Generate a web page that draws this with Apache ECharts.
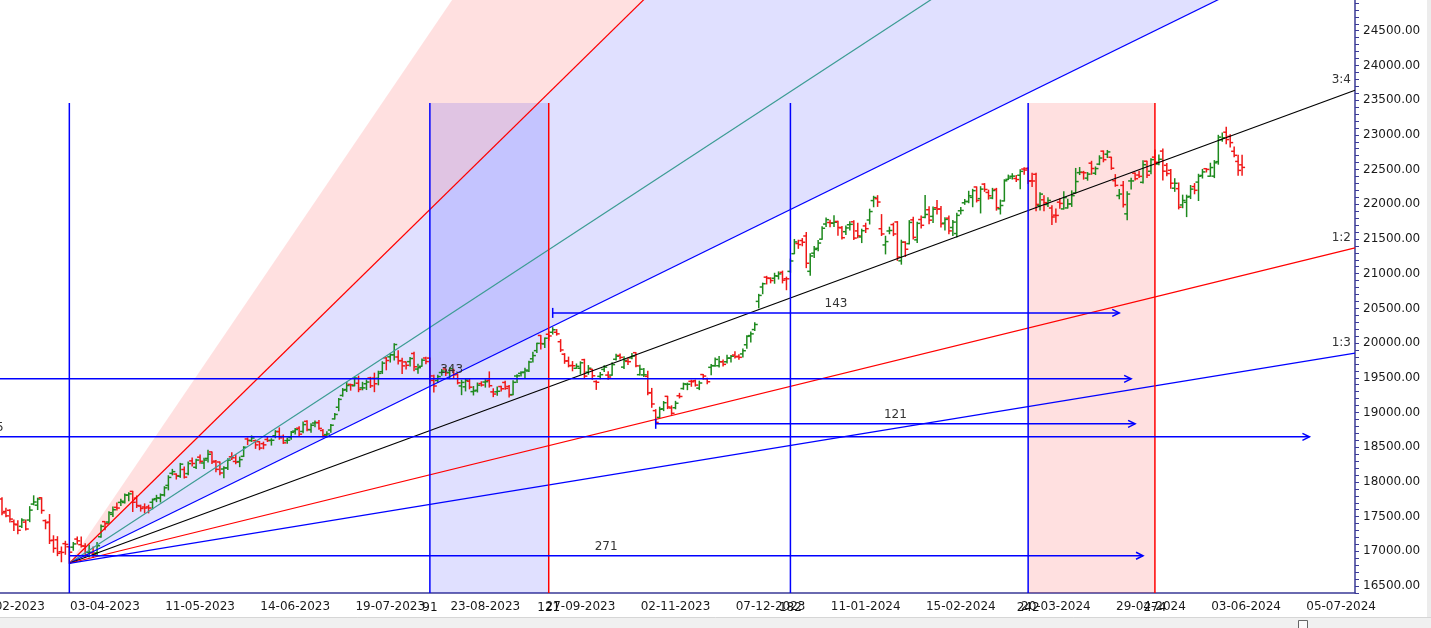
<!DOCTYPE html>
<html><head><meta charset="utf-8">
<script src="https://cdn.jsdelivr.net/npm/echarts@6/dist/echarts.min.js"></script>
<style>html,body{margin:0;padding:0;background:#fff}#c{width:1431px;height:628px}</style>
</head><body><div id="c"></div>
<script>
// ---- trading calendar (NSE sessions, then projected weekdays) ----
const tradingDays = {
 '2023-02': [22,23,24,27,28],
 '2023-03': [1,2,3,6,8,9,10,13,14,15,16,17,20,21,22,23,24,27,28,29,31],
 '2023-04': [3,5,6,10,11,12,13,17,18,19,20,21,24,25,26,27,28],
 '2023-05': [2,3,4,5,8,9,10,11,12,15,16,17,18,19,22,23,24,25,26,29,30,31],
 '2023-06': [1,2,5,6,7,8,9,12,13,14,15,16,19,20,21,22,23,26,27,28,30],
 '2023-07': [3,4,5,6,7,10,11,12,13,14,17,18,19,20,21,24,25,26,27,28,31],
 '2023-08': [1,2,3,4,7,8,9,10,11,14,16,17,18,21,22,23,24,25,28,29,30,31],
 '2023-09': [1,4,5,6,7,8,11,12,13,14,15,18,20,21,22,25,26,27,28,29],
 '2023-10': [3,4,5,6,9,10,11,12,13,16,17,18,19,20,23,25,26,27,30,31],
 '2023-11': [1,2,3,6,7,8,9,10,12,13,15,16,17,20,21,22,23,24,28,29,30],
 '2023-12': [1,4,5,6,7,8,11,12,13,14,15,18,19,20,21,22,26,27,28,29],
 '2024-01': [1,2,3,4,5,8,9,10,11,12,15,16,17,18,19,20,23,24,25,29,30,31],
 '2024-02': [1,2,5,6,7,8,9,12,13,14,15,16,19,20,21,22,23,26,27,28,29],
 '2024-03': [1,2,4,5,6,7,11,12,13,14,15,18,19,20,21,22,26,27,28],
 '2024-04': [1,2,3,4,5,8,9,10,12,15,16,18,19,22,23,24,25,26,29,30],
 '2024-05': [2,3,6,7,8,9,10,13,14,15,16,17,18,21,22,23,24,27,28,29,30,31],
 '2024-06': [3,4,5,6,7,10,11,12,13,14,17,18,19,20,21,24,25,26,27,28],
 '2024-07': [1,2,3,4,5,8,9,10]
};
const categories = [];
Object.keys(tradingDays).forEach(function (m) {
  const p = m.split('-');
  tradingDays[m].forEach(function (d) { categories.push((d < 10 ? '0' : '') + d + '-' + p[1] + '-' + p[0]); });
});

// ---- daily OHLC (NIFTY 50) ----
const opens = [
17755,17574,17591,17429,17383,
17360,17421,17451,17681,17665,17772,17443,17422,17160,17166,16994,17111,17066,17060,17177,17097,17076,16984,16977,16977,17210,
17428,17422,17533,17634,17705,17704,17808,17864,17767,17653,17639,17640,17707,17759,17767,17813,17950,
18124,18113,18082,18179,18120,18303,18211,18357,18273,18339,18432,18300,18287,18186,18201,18362,18295,18293,18369,18619,18595,18594,
18580,18551,18612,18600,18665,18725,18655,18595,18639,18732,18774,18727,18873,18752,18849,18853,18741,18682,18748,18908,19076,
19246,19331,19405,19385,19422,19355,19414,19497,19495,19493,19588,19787,19802,19831,19800,19748,19729,19733,19850,19626,19666,
19785,19784,19463,19462,19576,19627,19578,19606,19553,19383,19370,19450,19301,19320,19417,19439,19463,19297,19298,19374,19433,19375,
19258,19526,19564,19582,19598,19774,19891,20110,19989,20127,20156,20156,20020,19840,19744,19678,19637,19638,19761,19581,
19622,19446,19521,19621,19539,19539,19767,19822,19654,19737,19787,19862,19545,19542,19521,19286,19027,18929,19053,19233,
19065,19069,19241,19345,19405,19449,19457,19351,19547,19486,19651,19674,19674,19731,19731,19784,19828,19809,19844,19976,20108,
20195,20601,20808,20950,20932,20934,20965,21019,20927,21033,21288,21434,21477,21543,21034,21295,21365,21497,21715,21737,
21727,21752,21661,21605,21705,21747,21616,21529,21688,21773,22053,22080,21647,21414,21615,21707,21745,21185,21454,21433,21775,21487,
21780,21812,21921,21825,21950,21932,21728,21800,21665,21578,21906,22021,22038,22099,22249,22081,22290,22170,22090,22214,21935,
22048,22359,22403,22371,22418,22507,22517,22338,22432,21982,22064,21996,21946,21843,22030,21933,21947,22005,22163,
22455,22458,22376,22592,22447,22578,22765,22721,22677,22339,22125,22272,21862,22336,22448,22421,22316,22620,22475,22679,
22580,22766,22561,22489,22231,22225,21990,22028,22113,22255,22319,22415,22512,22404,22405,22614,22930,23038,22977,22763,22617,22568];
const highs = [
17772,17621,17599,17451,17440,
17468,17453,17644,17800,17766,17772,17451,17530,17224,17211,17063,17145,17066,17128,17207,17205,17109,17091,17062,17126,17381,
17428,17570,17638,17695,17749,17825,17843,17864,17797,17666,17684,17664,17754,17807,17827,17931,18089,
18181,18116,18267,18216,18287,18344,18326,18389,18342,18458,18432,18310,18288,18218,18335,18419,18392,18358,18508,18633,18663,18603,
18581,18573,18641,18622,18738,18778,18676,18633,18728,18769,18794,18864,18881,18839,18876,18886,18756,18722,18829,18987,19201,
19345,19434,19407,19512,19524,19435,19468,19507,19567,19595,19731,19791,19851,19991,19888,19782,19729,19794,19867,19695,19772,
19795,19784,19537,19538,19620,19628,19645,19623,19557,19465,19482,19480,19374,19425,19443,19472,19585,19342,19366,19377,19452,19389,
19458,19545,19587,19636,19737,19867,19996,20110,20072,20168,20222,20195,20050,19848,19798,19734,19699,19730,19767,19676,
19623,19457,19576,19675,19588,19717,19839,19843,19805,19781,19849,19862,19681,19635,19593,19347,19041,19077,19158,19233,
19096,19161,19276,19423,19423,19464,19467,19451,19547,19494,19693,19787,19806,19756,19825,19822,19875,19832,19916,20104,20158,
20292,20702,20864,20962,20941,21006,21026,21037,20950,21210,21493,21482,21506,21593,21288,21390,21477,21675,21801,21770,
21834,21755,21678,21685,21749,21763,21725,21641,21727,21929,22115,22124,21851,21539,21670,21727,21750,21482,21459,21764,21813,21742,
21832,22126,21964,21959,22053,21969,21804,21831,21766,21870,21953,22069,22187,22215,22249,22253,22297,22203,22229,22229,22061,
22353,22420,22440,22416,22497,22526,22526,22446,22446,22165,22124,22095,21978,21930,22080,22181,22073,22193,22516,
22529,22474,22457,22619,22537,22698,22768,22775,22677,22427,22213,22327,22180,22375,22449,22476,22625,22620,22655,22783,
22711,22795,22588,22499,22368,22307,22131,22131,22270,22298,22432,22502,22513,22591,22629,22993,23026,23111,23000,22826,22705,22705];
const lows = [
17529,17499,17421,17299,17255,
17345,17306,17427,17671,17602,17549,17325,17113,16987,16938,16850,16958,16828,17016,17107,17062,16918,16919,16913,16941,17204,
17312,17402,17503,17597,17661,17698,17729,17574,17632,17580,17554,17554,17612,17716,17711,17797,17886,
18101,18042,18066,18055,18102,18229,18194,18270,18195,18287,18264,18147,18104,18060,18178,18324,18262,18220,18367,18538,18584,18483,
18464,18478,18582,18531,18636,18615,18555,18559,18616,18690,18669,18710,18739,18715,18794,18759,18647,18646,18715,18908,19025,
19235,19302,19322,19385,19300,19327,19331,19361,19300,19399,19563,19615,19727,19758,19700,19563,19627,19670,19603,19564,19666,
19704,19423,19296,19436,19538,19533,19488,19495,19412,19257,19311,19341,19253,19296,19381,19366,19366,19229,19249,19309,19334,19224,
19255,19433,19525,19492,19589,19728,19866,19914,19935,20043,20130,20115,19878,19709,19658,19601,19637,19554,19492,19551,
19479,19333,19487,19589,19480,19536,19758,19772,19635,19691,19775,19659,19541,19519,19257,19075,18837,18927,19027,19056,
18973,19054,19210,19335,19329,19378,19381,19330,19480,19414,19543,19667,19657,19670,19713,19728,19786,19768,19800,19926,20015,
20183,20508,20711,20852,20868,20862,20923,20867,20769,21020,21288,21365,21402,21087,20976,21232,21329,21495,21681,21677,
21681,21555,21500,21564,21630,21492,21519,21448,21593,21716,21964,21969,21550,21285,21575,21548,21192,21137,21247,21429,21501,21449,
21658,21805,21720,21737,21860,21671,21629,21574,21549,21530,21860,21999,22022,21964,22033,21875,22186,22074,22080,21915,21860,
22047,22355,22363,22327,22224,22432,22298,22256,21906,21917,21906,21967,21710,21742,21941,21931,21947,21969,22163,
22428,22362,22346,22432,22428,22570,22612,22673,22503,22259,22079,21961,21777,22219,22349,22384,22305,22385,22441,22569,
22568,22348,22409,22232,22186,21933,21950,21822,22082,22151,22054,22378,22465,22404,22384,22577,22908,22871,22825,22683,22417,22418];
const closes = [
17554,17511,17465,17392,17304,
17451,17322,17594,17711,17754,17589,17413,17154,17043,16972,16985,17100,16988,17107,17151,17077,16945,16986,16951,17081,17360,
17398,17557,17599,17624,17722,17812,17828,17707,17660,17618,17624,17624,17744,17770,17814,17915,18065,
18148,18090,18256,18069,18264,18266,18315,18297,18315,18399,18287,18181,18129,18203,18314,18348,18285,18321,18499,18599,18633,18534,
18488,18534,18594,18600,18726,18635,18563,18601,18716,18755,18688,18826,18755,18817,18856,18771,18665,18691,18817,18972,19189,
19323,19389,19399,19497,19332,19355,19439,19384,19414,19564,19711,19749,19833,19979,19745,19672,19680,19778,19659,19646,19754,
19734,19527,19382,19517,19597,19571,19633,19543,19428,19434,19465,19365,19310,19394,19396,19444,19386,19266,19306,19342,19347,19253,
19435,19528,19575,19611,19727,19820,19996,19993,20070,20103,20192,20133,19901,19742,19674,19674,19665,19716,19524,19638,
19529,19436,19545,19654,19512,19690,19811,19794,19751,19732,19812,19672,19624,19543,19282,19123,18857,19047,19141,19080,
18989,19134,19231,19412,19407,19443,19395,19425,19525,19443,19675,19765,19732,19694,19783,19811,19802,19795,19890,20097,20133,
20268,20687,20855,20937,20901,20969,20997,20906,20926,21183,21457,21419,21453,21150,21255,21349,21441,21654,21778,21731,
21741,21666,21518,21659,21711,21513,21545,21619,21648,21895,22097,22032,21572,21462,21622,21572,21239,21453,21352,21738,21523,21725,
21697,21853,21771,21929,21930,21718,21782,21616,21743,21840,21911,22041,22122,22196,22055,22218,22213,22122,22198,21951,21982,
22338,22378,22405,22356,22474,22493,22333,22335,21998,22146,22023,22055,21817,21839,22012,22096,22005,22124,22327,
22462,22453,22434,22515,22514,22666,22642,22754,22519,22272,22147,21995,22147,22336,22368,22402,22570,22419,22643,22605,
22648,22476,22442,22303,22302,21958,22055,22104,22218,22201,22404,22466,22502,22529,22597,22967,22957,22932,22888,22705,22488,22531];

// ---- Gann fan (origin bar index, price; 1:1 = points per bar) ----
const fanOrigin = [17, 16828];
const fanUnit = 28;
const fanRatios = [2, 1.3333, 1, 0.75, 0.5, 0.3333];
const fanLabels = ['', '', '', '3:4', '1:2', '1:3'];
const fanBands = [[3, 2], [2, 1]];

// ---- time counts (bars from fan origin) ----
const timeMarks = [0, 91, 121, 182, 242, 274];
const timeMarkLabels = ['', '91', '121', '182', '242', '274'];
const timeBoxes = [[91, 121], [242, 274]];
const timeTop = 23460;

// ---- horizontal count arrows (bar index from / to, price level, label) ----
const arrowFrom = [-58, -335, 17, 139, 165];
const arrowTo = [285, 330, 288, 282, 286];
const arrowLevel = [19485, 18650, 16937, 20435, 18837];
const arrowLabels = ['343', '665', '271', '143', '121'];
const arrowStartTick = [false, false, false, true, true];

// ---- axis ----
const yMin = 16400, yMax = 25000, yStep = 100, yLabelStep = 500;
const labelEvery = 24, labelOffset = 2;
const minorTickOffsets = [0, 5, 10, 14, 19];

// ---- styles ----
const FONT = 'DejaVu Sans';
const AXIS = '#3a3a96';
const UP = '#1e8a1e', DOWN = '#f01818';
const fanLineColors = ['#ff0000', '#3c9c94', '#0000ff', '#000000', '#ff0000', '#0000ff'];
const bandFills = ['rgba(255,0,0,0.12)', 'rgba(0,0,255,0.12)'];
const timeMarkColors = ['#0000ff', '#0000ff', '#ff0000', '#0000ff', '#0000ff', '#ff0000'];
const boxFills = ['rgba(0,0,255,0.12)', 'rgba(255,0,0,0.12)'];
const lastBar = categories.length - 0.5;

function idxData(arr) { return arr.map(function (_, i) { return [i]; }); }

const chart = echarts.init(document.getElementById('c'), null, {renderer: 'canvas'});
chart.setOption({
  animation: false,
  backgroundColor: '#ffffff',
  grid: {left: 0, right: 76, top: -4, bottom: 35, containLabel: false, outerBoundsMode: 'none'},
  xAxis: [{
    type: 'category', data: categories, boundaryGap: true,
    axisLine: {onZero: false, lineStyle: {color: AXIS, width: 1.5}},
    axisTick: {alignWithLabel: true, length: 4, lineStyle: {color: AXIS},
      interval: function (i) { return minorTickOffsets.indexOf(((i - labelOffset) % labelEvery + labelEvery) % labelEvery) >= 0; }},
    axisLabel: {interval: function (i) { return (i - labelOffset) % labelEvery === 0; },
      color: '#1a1a1a', fontSize: 12, fontFamily: FONT, margin: 8},
    splitLine: {show: false}
  }, {
    type: 'value', min: -0.5, max: lastBar, show: false
  }],
  yAxis: {
    type: 'value', position: 'right', min: yMin, max: yMax, interval: yStep,
    axisLine: {show: true, onZero: false, lineStyle: {color: AXIS, width: 1.5}},
    axisTick: {show: true, length: 4, lineStyle: {color: AXIS}},
    axisLabel: {formatter: function (v) { return v % yLabelStep === 0 ? v.toFixed(2) : ''; },
      color: '#1a1a1a', fontSize: 12, fontFamily: FONT, margin: 8},
    splitLine: {show: false}
  },
  series: [
    { // fan bands
      type: 'custom', xAxisIndex: 1, z: 1, clip: false, silent: true,
      data: idxData(fanBands),
      renderItem: function (params, api) {
        const b = fanBands[params.dataIndex];
        const run = lastBar - fanOrigin[0];
        const o = api.coord(fanOrigin);
        const a = api.coord([lastBar, fanOrigin[1] + fanUnit * b[0] * run]);
        const c = api.coord([lastBar, fanOrigin[1] + fanUnit * b[1] * run]);
        return {type: 'polygon', shape: {points: [o, a, c]}, style: {fill: bandFills[params.dataIndex]}};
      }
    },
    { // time boxes
      type: 'custom', xAxisIndex: 1, z: 2, clip: false, silent: true,
      data: idxData(timeBoxes),
      renderItem: function (params, api) {
        const b = timeBoxes[params.dataIndex];
        const p1 = api.coord([fanOrigin[0] + b[0], timeTop]);
        const p2 = api.coord([fanOrigin[0] + b[1], yMin]);
        return {type: 'rect', shape: {x: p1[0], y: p1[1], width: p2[0] - p1[0], height: p2[1] - p1[1]},
          style: {fill: boxFills[params.dataIndex]}};
      }
    },
    { // OHLC bars
      type: 'custom', xAxisIndex: 1, z: 3, clip: false, silent: true,
      data: opens.map(function (o, i) { return [i, o, highs[i], lows[i], closes[i]]; }),
      encode: {x: 0, y: [1, 2, 3, 4]},
      renderItem: function (params, api) {
        const i = api.value(0), o = api.value(1), h = api.value(2), l = api.value(3), c = api.value(4);
        const pH = api.coord([i, h]), pL = api.coord([i, l]), pO = api.coord([i, o]), pC = api.coord([i, c]);
        const col = c >= o ? UP : DOWN;
        const x = pH[0];
        const st = {stroke: col, lineWidth: 1.5};
        return {type: 'group', children: [
          {type: 'line', shape: {x1: x, y1: pH[1] - 0.5, x2: x, y2: pL[1] + 0.5}, style: st},
          {type: 'line', shape: {x1: x - 3, y1: pO[1], x2: x, y2: pO[1]}, style: st},
          {type: 'line', shape: {x1: x, y1: pC[1], x2: x + 3, y2: pC[1]}, style: st}
        ]};
      }
    },
    { // fan lines + labels
      type: 'custom', xAxisIndex: 1, z: 4, clip: false, silent: true,
      data: idxData(fanRatios),
      renderItem: function (params, api) {
        const k = params.dataIndex, r = fanRatios[k];
        const run = lastBar - fanOrigin[0];
        const o = api.coord(fanOrigin);
        const e = api.coord([lastBar, fanOrigin[1] + fanUnit * r * run]);
        const children = [{type: 'line', shape: {x1: o[0], y1: o[1], x2: e[0], y2: e[1]},
          style: {stroke: fanLineColors[k], lineWidth: 1.2}}];
        if (fanLabels[k]) {
          children.push({type: 'text', x: e[0] - 4, y: e[1] - 4,
            style: {text: fanLabels[k], fill: '#333', font: '12px "' + FONT + '"', align: 'right', verticalAlign: 'bottom'}});
        }
        return {type: 'group', children: children};
      }
    },
    { // time marks (vertical lines + counts below axis)
      type: 'custom', xAxisIndex: 1, z: 5, clip: false, silent: true,
      data: idxData(timeMarks),
      renderItem: function (params, api) {
        const k = params.dataIndex, b = fanOrigin[0] + timeMarks[k];
        const t = api.coord([b, timeTop]), f = api.coord([b, yMin]);
        const children = [{type: 'line', shape: {x1: t[0], y1: t[1], x2: f[0], y2: f[1]},
          style: {stroke: timeMarkColors[k], lineWidth: 1.5}}];
        if (timeMarkLabels[k]) {
          children.push({type: 'text', x: f[0], y: f[1] + 15,
            style: {text: timeMarkLabels[k], fill: '#111', font: '12px "' + FONT + '"', align: 'center', verticalAlign: 'middle'}});
        }
        return {type: 'group', children: children};
      }
    },
    { // count arrows
      type: 'custom', xAxisIndex: 1, z: 5, clip: false, silent: true,
      data: idxData(arrowFrom),
      renderItem: function (params, api) {
        const k = params.dataIndex;
        const a = api.coord([arrowFrom[k], arrowLevel[k]]);
        const b = api.coord([arrowTo[k], arrowLevel[k]]);
        const m = api.coord([(arrowFrom[k] + arrowTo[k]) / 2, arrowLevel[k]]);
        const st = {stroke: '#0000ff', lineWidth: 1.5, fill: null};
        const children = [
          {type: 'line', shape: {x1: a[0], y1: a[1], x2: b[0], y2: b[1]}, style: st},
          {type: 'polyline', shape: {points: [[b[0] - 7, b[1] - 3.5], [b[0], b[1]], [b[0] - 7, b[1] + 3.5]]}, style: st},
          {type: 'text', x: m[0], y: m[1] - 9,
            style: {text: arrowLabels[k], fill: '#333', font: '12px "' + FONT + '"', align: 'center', verticalAlign: 'middle'}}
        ];
        if (arrowStartTick[k]) {
          children.push({type: 'line', shape: {x1: a[0], y1: a[1] - 5, x2: a[0], y2: a[1] + 5}, style: st});
        }
        return {type: 'group', children: children};
      }
    }
  ],
  graphic: [
    {type: 'rect', shape: {x: 0, y: 617, width: 1431, height: 11}, style: {fill: '#f0f0f0'}, z: 10},
    {type: 'line', shape: {x1: 0, y1: 617.5, x2: 1431, y2: 617.5}, style: {stroke: '#d6d6d6', lineWidth: 1}, z: 10},
    {type: 'rect', shape: {x: 1298.5, y: 620.5, width: 9, height: 9}, style: {fill: '#fafafa', stroke: '#666'}, z: 11},
    {type: 'rect', shape: {x: 1427, y: 0, width: 4, height: 617}, style: {fill: '#ececec'}, z: 10}
  ]
});
</script>
</body></html>
